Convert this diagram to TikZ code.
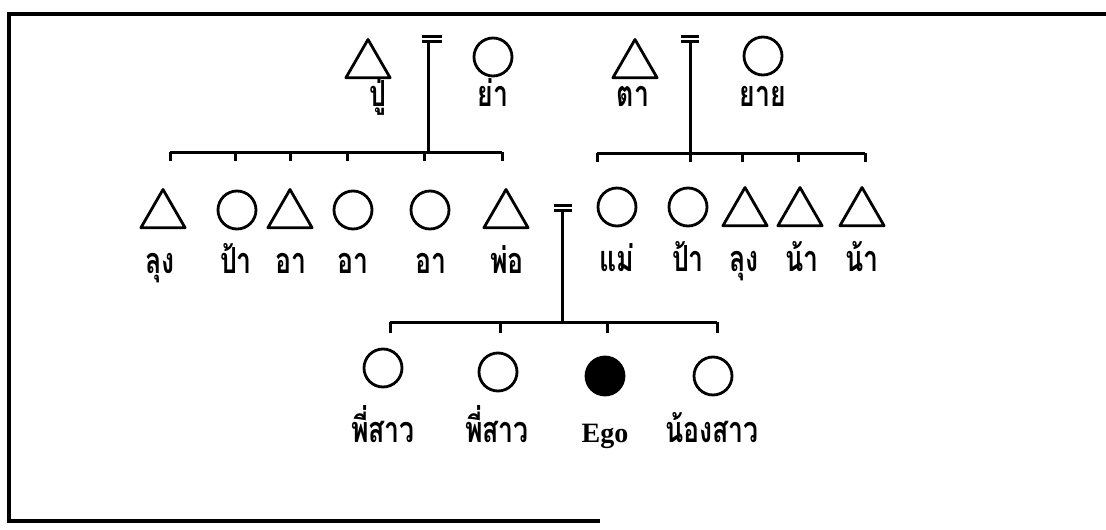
\documentclass[tikz,border=0pt]{standalone}
\usepackage{fontspec}
\newfontfamily\thaifont[Script=Thai]{Loma}
\newfontfamily\egofont{Liberation Serif}
\usetikzlibrary{shapes.geometric,calc}
\newcommand\thl[1]{\scalebox{0.74}[1]{#1}}
\begin{document}
\begin{tikzpicture}[x=1pt,y=-1pt,
  kin/.style={line width=3pt},
  frame/.style={line width=3.5pt},
  male/.style={draw, line width=2.8pt, line join=round, regular polygon, regular polygon sides=3, minimum size=51pt, inner sep=0pt, outer sep=0pt},
  female/.style={draw, line width=2.8pt, circle, minimum size=38pt, inner sep=0pt, outer sep=0pt},
  egonode/.style={female, fill=black},
  lab/.style={font=\thaifont\bfseries\fontsize{36}{36}\selectfont, anchor=base, inner sep=0pt},
  elab/.style={font=\egofont\bfseries\fontsize{28}{28}\selectfont, anchor=base, inner sep=0pt}]
\useasboundingbox (0,0) rectangle (1106,530);
% frame
\coordinate (fr1) at (1106,14);
\coordinate (fr2) at (9,14);
\coordinate (fr3) at (9,521);
\coordinate (fr4) at (600,521);
\draw[frame] (fr1) -- (fr2) -- (fr3) -- (fr4);

% generation 1
\node[male] (pu) at (368,65) {};
\node[female] (ya) at (493,57) {};
\node[male] (ta) at (635,65) {};
\node[female] (yai) at (763,56) {};
\node[lab] (lpu) at (378,106) {\thl{ปู่}};
\node[lab] (lya) at (493,106) {\thl{ย่า}};
\node[lab] (lta) at (633,106) {\thl{ตา}};
\node[lab] (lyai) at (763,106) {\thl{ยาย}};

% marriage signs gen 1
\coordinate (eq1) at (432,39);
\coordinate (eq2) at (690,39);
\draw[kin] (eq1) ++(-10,-2.5) -- ++(20,0);
\draw[kin] (eq1) ++(-10,2.5) -- ++(20,0);
\draw[kin] (eq2) ++(-9,-2.5) -- ++(18,0);
\draw[kin] (eq2) ++(-9,2.5) -- ++(18,0);
\coordinate (d1t) at (428,42);
\coordinate (d1b) at (428,152);
\coordinate (d2t) at (690,42);
\coordinate (d2b) at (690,153);
\draw[kin] (d1t) -- (d1b);
\draw[kin] (d2t) -- (d2b);

% sibling bars gen 2
\coordinate (b1s) at (170,152);
\coordinate (b1e) at (502,152);
\draw[kin] (b1s) -- (b1e);
\foreach \t in {170,235,290,347,424,502} {
  \coordinate (t1-\t) at (\t,152);
  \draw[kin] (t1-\t) -- ++(0,9);
}
\coordinate (b2s) at (597,153);
\coordinate (b2e) at (865,153);
\draw[kin] (b2s) -- (b2e);
\foreach \t in {597,690,742,798,865} {
  \coordinate (t2-\t) at (\t,153);
  \draw[kin] (t2-\t) -- ++(0,9);
}

% generation 2
\node[male] (luung1) at (163,215) {};
\node[female] (paa1) at (237,210) {};
\node[male] (aa1) at (290,215) {};
\node[female] (aa2) at (353,210) {};
\node[female] (aa3) at (430,210) {};
\node[male] (phor) at (506,215) {};
\node[female] (mae) at (617,207) {};
\node[female] (paa2) at (688,207) {};
\node[male] (luung2) at (745,213) {};
\node[male] (naa1) at (800,213) {};
\node[male] (naa2) at (862,213) {};
\node[lab] (lluung1) at (160,273) {\thl{ลุง}};
\node[lab] (lpaa1) at (236,273) {\thl{ป้า}};
\node[lab] (laa1) at (291,273) {\thl{อา}};
\node[lab] (laa2) at (353,273) {\thl{อา}};
\node[lab] (laa3) at (431,273) {\thl{อา}};
\node[lab] (lphor) at (507,273) {\thl{พ่อ}};
\node[lab] (lmae) at (617,271) {\thl{แม่}};
\node[lab] (lpaa2) at (688,271) {\thl{ป้า}};
\node[lab] (lluung2) at (744,271) {\thl{ลุง}};
\node[lab] (lnaa1) at (802,271) {\thl{น้า}};
\node[lab] (lnaa2) at (862,271) {\thl{น้า}};

% marriage gen 2
\coordinate (eq3) at (563,208);
\draw[kin] (eq3) ++(-9,-2.5) -- ++(18,0);
\draw[kin] (eq3) ++(-9,2.5) -- ++(18,0);
\coordinate (d3t) at (562,212);
\coordinate (d3b) at (562,322);
\draw[kin] (d3t) -- (d3b);

% sibling bar gen 3
\coordinate (b3s) at (390,322);
\coordinate (b3e) at (717,322);
\draw[kin] (b3s) -- (b3e);
\foreach \t in {390,500,607,717} {
  \coordinate (t3-\t) at (\t,322);
  \draw[kin] (t3-\t) -- ++(0,11);
}

% generation 3
\node[female] (pii1) at (383,368) {};
\node[female] (pii2) at (498,372) {};
\node[egonode] (ego) at (605,376) {};
\node[female] (nong) at (713,376) {};
\node[lab] (lpii1) at (383,442) {\thl{พี่สาว}};
\node[lab] (lpii2) at (497,442) {\thl{พี่สาว}};
\node[elab] (lego) at (605,442) {Ego};
\node[lab] (lnong) at (712,442) {\thl{น้องสาว}};
\end{tikzpicture}
\end{document}
